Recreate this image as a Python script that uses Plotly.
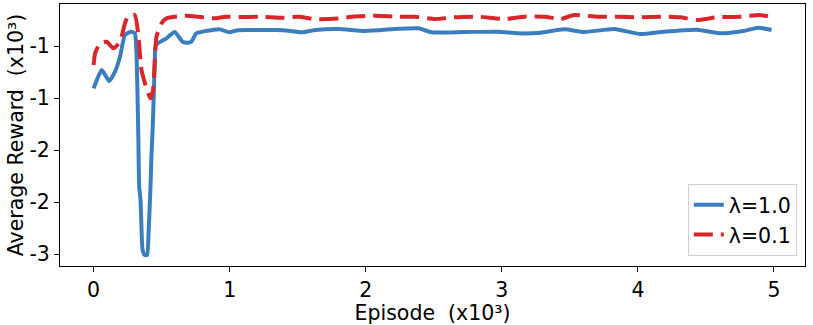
import plotly.graph_objects as go

# episodes / average reward
ep_full = [0, 60, 115, 157, 194, 230, 274, 303, 314, 322, 329, 335, 345, 360, 376, 393,
           404, 418, 425, 435, 442, 450, 457, 535, 596, 654, 693, 718, 754, 800, 876, 925,
           998, 1050, 1120, 1200, 1339, 1450, 1534, 1632, 1802, 1997, 2240, 2387, 2484,
           2728, 2972, 3118, 3264, 3459, 3605, 3825, 4019, 4190, 4433, 4604, 4775, 4885, 4982]
reward_full = [-1407, -1231, -1337, -1247, -1103, -894, -862, -878, -1038, -1423, -1904,
               -2353, -2481, -2962, -3010, -3010, -2798, -2353, -2064, -1760, -1471, -1135,
               -990, -926, -865, -959, -968, -959, -878, -862, -845, -839, -868, -850,
               -846, -846, -846, -855, -868, -846, -837, -856, -834, -830, -868, -865,
               -862, -878, -875, -839, -865, -837, -885, -862, -843, -878, -856, -824, -846]

ep_low = [0, 11, 48, 96, 145, 194, 230, 254, 303, 327, 352, 389, 418, 437, 462, 499, 535,
          681, 876, 974, 1100, 1217, 1400, 1510, 1632, 1802, 1899, 2070, 2240, 2363, 2509,
          2655, 2825, 3020, 3167, 3313, 3434, 3532, 3702, 3849, 3995, 4190, 4312, 4433,
          4580, 4750, 4896, 4969]
reward_low = [-1183, -1070, -974, -959, -1022, -959, -782, -712, -702, -878, -1231, -1407,
              -1503, -1423, -911, -782, -734, -709, -734, -718, -722, -718, -728, -718,
              -743, -734, -718, -709, -718, -718, -740, -724, -718, -740, -718, -718, -740,
              -702, -718, -718, -724, -718, -724, -750, -724, -718, -702, -718]

x_ticks = [0, 1000, 2000, 3000, 4000, 5000]
x_labels = ["0", "1", "2", "3", "4", "5"]
y_ticks = [-3000, -2500, -2000, -1500, -1000]
y_labels = ["-3", "-2", "-2", "-1", "-1"]

FONT = "DejaVu Sans"
FS = 20.5

fig = go.Figure()
fig.add_trace(go.Scatter(
    x=ep_full, y=reward_full, mode="lines", name="λ=1.0",
    line=dict(color="#3a7ebf", width=4, shape="spline", smoothing=0.5),
))
fig.add_trace(go.Scatter(
    x=ep_low, y=reward_low, mode="lines", name="λ=0.1",
    line=dict(color="#d8262b", width=4, dash="19px,8px", shape="spline", smoothing=0.5),
))

axis_common = dict(
    showline=True, linecolor="black", linewidth=1, mirror=True, automargin=False,
    ticks="outside", ticklen=5, tickcolor="black", showgrid=False, zeroline=False,
    tickfont=dict(family=FONT, size=FS, color="black"),
)

fig.update_layout(
    width=813, height=325,
    margin=dict(l=60, r=8, t=4, b=59),
    plot_bgcolor="white", paper_bgcolor="white",
    font=dict(family=FONT, size=FS, color="black"),
    xaxis=dict(range=[-247, 5228], tickvals=x_ticks, ticktext=x_labels,
               title=dict(text="Episode  (x10³)", standoff=0, font=dict(size=FS)),
               **axis_common),
    yaxis=dict(range=[-3115, -596], tickvals=y_ticks, ticktext=y_labels,
               title=dict(text="Average Reward  (x10³)", standoff=0, font=dict(size=FS)),
               **axis_common),
    legend=dict(x=0.989, y=0.038, xanchor="right", yanchor="bottom",
                bgcolor="rgba(255,255,255,0.8)", bordercolor="#d0d0d0", borderwidth=1,
                font=dict(family=FONT, size=FS)),
    showlegend=True,
)

# drop the browser's default page margin so the figure sits at 0,0
fig.write_html("out.html", config={"displayModeBar": False},
               post_script="document.body.style.margin='0';")
